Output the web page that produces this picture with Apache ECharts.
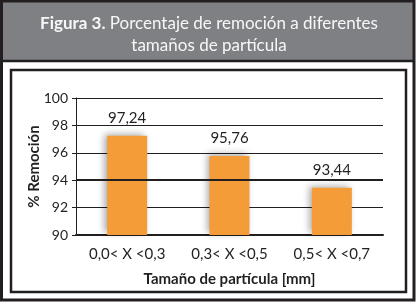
<!DOCTYPE html>
<html>

<head>
	<meta charset="UTF-8">
	<title></title>
	<style>
		html, body { margin: 0; padding: 0; background: #fff; }
		#chart { width: 418px; height: 304px; }
	</style>
	<script src="https://cdn.jsdelivr.net/npm/echarts@6/dist/echarts.min.js"></script>
</head>

<body>
	<div id="chart"></div>
	<script>
		var categories = ['0,0< X <0,3', '0,3< X <0,5', '0,5< X <0,7'];
		var removal = [97.24, 95.76, 93.44];
		var yTicks = { min: 90, max: 100, step: 2 };
		var refLine = 94;

		var ink = '#231f20';
		var font = 'Lato';

		var myChart = echarts.init(document.getElementById('chart'));
		myChart.setOption({
			animation: false,
			textStyle: { fontFamily: font },
			title: {
				text: '{b|Figura 3.} Porcentaje de remoción a diferentes\ntamaños de partícula',
				left: 'center',
				top: 8,
				textStyle: {
					fontFamily: font,
					fontSize: 17,
					fontWeight: 'normal',
					color: '#f7f7f7',
					lineHeight: 22,
					rich: {
						b: { fontFamily: font, fontSize: 17, fontWeight: 'bold', color: '#f7f7f7', lineHeight: 22 }
					}
				}
			},
			graphic: [
				{ type: 'rect', z: 0, silent: true, shape: { x: 3, y: 2, width: 410, height: 58 }, style: { fill: '#7f8084' } },
				{ type: 'line', z: 1, silent: true, shape: { x1: 2, y1: 61, x2: 414, y2: 61 }, style: { stroke: ink, lineWidth: 2.5 } },
				{ type: 'rect', z: 1, silent: true, shape: { x: 1.5, y: 1, width: 412.5, height: 299 }, style: { fill: null, stroke: ink, lineWidth: 3 } },
				{ type: 'rect', z: 1, silent: true, shape: { x: 11, y: 70, width: 395, height: 222 }, style: { fill: null, stroke: ink, lineWidth: 2.5 } }
			],
			grid: { left: 76, right: 35, top: 98, bottom: 69 },
			xAxis: {
				type: 'category',
				data: categories,
				name: 'Tamaño de partícula [mm]',
				nameLocation: 'middle',
				nameGap: 37,
				nameMoveOverlap: false,
				nameTextStyle: { fontFamily: font, fontSize: 15, fontWeight: 'bold', color: ink },
				axisLine: { lineStyle: { color: ink, width: 2 } },
				axisTick: { show: false },
				axisLabel: { fontFamily: font, fontSize: 15, color: ink, margin: 12 }
			},
			yAxis: {
				type: 'value',
				min: yTicks.min,
				max: yTicks.max,
				interval: yTicks.step,
				name: '% Remoción',
				nameLocation: 'middle',
				nameGap: 34,
				nameMoveOverlap: false,
				nameTextStyle: { fontFamily: font, fontSize: 15, fontWeight: 'bold', color: ink },
				axisLine: { show: true, lineStyle: { color: ink, width: 1 } },
				axisTick: { show: true, length: 4, lineStyle: { color: ink } },
				axisLabel: { fontFamily: font, fontSize: 14, color: ink, margin: 8 },
				splitLine: { lineStyle: { color: ink, width: 1 } }
			},
			series: [
				{
					type: 'bar',
					data: removal,
					barWidth: 40,
					itemStyle: {
						color: '#f39c38',
						shadowColor: 'rgba(0,0,0,0.35)',
						shadowBlur: 7,
						shadowOffsetX: -3,
						shadowOffsetY: -2
					},
					label: {
						show: true,
						position: 'top',
						distance: 10,
						fontFamily: font,
						fontSize: 15,
						color: ink,
						formatter: function (p) {
							return p.value.toFixed(2).replace('.', ',');
						}
					},
					markLine: {
						silent: true,
						symbol: 'none',
						label: { show: false },
						lineStyle: { color: ink, width: 2, type: 'solid' },
						data: [{ yAxis: refLine }]
					}
				}
			]
		});
	</script>
</body>

</html>
